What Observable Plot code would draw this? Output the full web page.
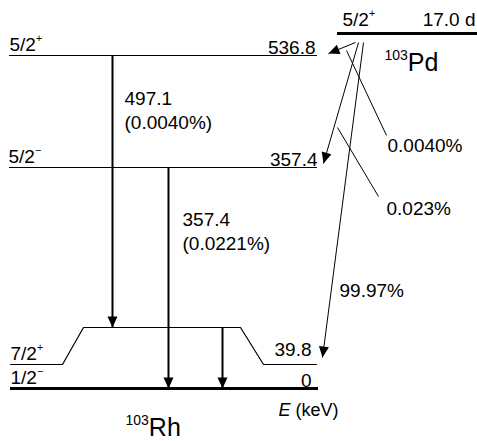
<!DOCTYPE html>
<html><head><meta charset="utf-8">
<script src="https://cdn.jsdelivr.net/npm/d3@7"></script>
<script src="https://cdn.jsdelivr.net/npm/@observablehq/plot@0.6"></script>
<style>html,body{margin:0;padding:0;background:#fff;} svg{display:block;}</style>
</head><body><div id="chart"></div>
<script>
// ---------- data ----------
const levelEnergies = [0, 39.8, 357.4, 536.8];
const levelSpins = ["1/2^{−}", "7/2^{+}", "5/2^{−}", "5/2^{+}"];
const levelLabels = ["0", "39.8", "357.4", "536.8"];
const gammaFrom = [536.8, 357.4, 39.8];
const gammaTo = [39.8, 0, 0];
const gammaEnergyLabels = ["497.1", "357.4", ""];
const gammaIntensityLabels = ["(0.0040%)", "(0.0221%)", ""];
const betaTo = [536.8, 357.4, 39.8];
const betaLabels = ["0.0040%", "0.023%", "99.97%"];
const parentSpin = "5/2^{+}";
const parentHalfLife = "17.0 d";
const parentName = "^{103}Pd";
const daughterName = "^{103}Rh";
const energyUnitLabel = "*E* (keV)";

// ---------- layout (pixels) ----------
const W = 477, H = 441;
const levelPx = [388, 364, 167, 55];
const lay = {
  levelX: [9, 317], groundX: [10, 318],
  bentX: [10, 62, 83, 240, 263, 316], raisedPx: 327,
  parentPx: 33, parentX: [337, 477],
  gammaX: [112, 168, 222],
  betaStart: [[355, 42], [358, 42], [363, 42]],
  betaTip: [[328, 53], [323, 163], [322, 357]],
  leaders: [[[346, 50], [386, 135]], [[337, 127], [378, 196]]],
  betaLabelPos: [[387, 145], [386, 208.5], [339, 290]],
  spinX: [10, 10, 8, 9], spinDy: -11,
  labelX: [311, 311, 317, 315], labelDy: [-8, -15, -8, -8],
  gammaLabelPos: [[124, 109], [182, 229.5]],
  parentSpinPos: [342, 19], halfLifePos: [475, 19], parentNamePos: [384, 62],
  daughterPos: [125, 427], unitPos: [338, 410]
};
// piecewise energy -> layout mapping, used as the y scale's transform
const P = d3.scaleLinear().domain(levelEnergies).range(levelPx);
const E = d3.scaleLinear().domain(levelPx).range(levelEnergies);
const raisedE = E(lay.raisedPx);
const parentE = E(lay.parentPx);

// arrowhead symbol: tip at origin, pointing down (+y)
const arrowSym = {draw(ctx) { ctx.moveTo(0, 0); ctx.lineTo(-5, -11); ctx.lineTo(5, -11); ctx.closePath(); }};
function head(fx, fy, tx, ty) {
  const len = Math.hypot(tx - fx, ty - fy), ux = (tx - fx) / len, uy = (ty - fy) / len;
  return {x: tx, y: E(ty), rot: Math.atan2(-ux, uy) * 180 / Math.PI};
}
const pxOf = e => e === 39.8 ? lay.raisedPx : P(e);
const gammas = gammaFrom.map((f, i) => ({
  x: lay.gammaX[i], py1: pxOf(f), py2: pxOf(gammaTo[i]), y1: E(pxOf(f)), y2: E(pxOf(gammaTo[i]))
}));
const betas = betaTo.map((e, i) => ({
  x1: lay.betaStart[i][0], y1: E(lay.betaStart[i][1]), x2: lay.betaTip[i][0], y2: E(lay.betaTip[i][1])
}));
const heads = [
  ...gammas.map(g => head(g.x, g.py1, g.x, g.py2)),
  ...betaTo.map((e, i) => head(lay.betaStart[i][0], lay.betaStart[i][1], lay.betaTip[i][0], lay.betaTip[i][1]))
];
const leaders = lay.leaders.map(([a, b]) => ({x1: a[0], y1: E(a[1]), x2: b[0], y2: E(b[1])}));
const bentPts = lay.bentX.map((x, i) => ({x, y: (i === 2 || i === 3) ? raisedE : levelEnergies[1]}));
const straightLevels = levelEnergies.filter(e => e !== 0 && e !== 39.8);
const gammaText = gammaEnergyLabels.map((l, i) => ({l, t: l + "\n" + gammaIntensityLabels[i], i})).filter(d => d.l);

const FONT = "'Liberation Sans', Arial, Helvetica, sans-serif";
const plot = Plot.plot({
  width: W, height: H, margin: 0,
  x: {domain: [0, W], range: [0, W], axis: null},
  y: {transform: P, domain: [0, H], range: [0, H], axis: null},
  style: {fontFamily: FONT, fontSize: "19px", background: "white", color: "black"},
  marks: [
    Plot.ruleY(straightLevels, {y: d => d, x1: lay.levelX[0], x2: lay.levelX[1], strokeWidth: 1.2}),
    Plot.ruleY([levelEnergies[0]], {y: d => d, x1: lay.groundX[0], x2: lay.groundX[1], strokeWidth: 3}),
    Plot.line(bentPts, {x: "x", y: "y", strokeWidth: 1.2}),
    Plot.ruleY([parentE], {y: d => d, x1: lay.parentX[0], x2: lay.parentX[1], strokeWidth: 3}),
    Plot.link(gammas, {x1: "x", x2: "x", y1: "y1", y2: "y2", strokeWidth: 2}),
    Plot.link(betas, {x1: "x1", y1: "y1", x2: "x2", y2: "y2", strokeWidth: 1}),
    Plot.link(leaders, {x1: "x1", y1: "y1", x2: "x2", y2: "y2", strokeWidth: 1}),
    Plot.dot(heads, {x: "x", y: "y", rotate: "rot", symbol: arrowSym, fill: "black", stroke: "none"}),
    Plot.text(levelSpins, {x: (d, i) => lay.spinX[i], y: (d, i) => E(P(levelEnergies[i]) + lay.spinDy), text: d => d, textAnchor: "start", fontSize: 19}),
    Plot.text(levelLabels, {x: (d, i) => lay.labelX[i], y: (d, i) => E(P(levelEnergies[i]) + lay.labelDy[i]), text: d => d, textAnchor: "end", fontSize: 19}),
    Plot.text(gammaText, {x: d => lay.gammaLabelPos[d.i][0], y: d => E(lay.gammaLabelPos[d.i][1]), text: "t", textAnchor: "start", lineHeight: 1.26, fontSize: 19}),
    Plot.text(betaLabels, {x: (d, i) => lay.betaLabelPos[i][0], y: (d, i) => E(lay.betaLabelPos[i][1]), text: d => d, textAnchor: "start", fontSize: 19}),
    Plot.text([parentSpin], {x: lay.parentSpinPos[0], y: E(lay.parentSpinPos[1]), text: d => d, textAnchor: "start", fontSize: 19}),
    Plot.text([parentHalfLife], {x: lay.halfLifePos[0], y: E(lay.halfLifePos[1]), text: d => d, textAnchor: "end", fontSize: 19}),
    Plot.text([parentName], {x: lay.parentNamePos[0], y: E(lay.parentNamePos[1]), text: d => d, textAnchor: "start", fontSize: 25}),
    Plot.text([daughterName], {x: lay.daughterPos[0], y: E(lay.daughterPos[1]), text: d => d, textAnchor: "start", fontSize: 25}),
    Plot.text([energyUnitLabel], {x: lay.unitPos[0], y: E(lay.unitPos[1]), text: d => d, textAnchor: "end", fontSize: 18})
  ]
});
document.getElementById("chart").appendChild(plot);

function richText(root) {
  const NS = "http://www.w3.org/2000/svg";
  root.querySelectorAll("text").forEach(t => {
    const s = t.textContent;
    if (!/[\^*]/.test(s) || t.querySelector("tspan")) return;
    const fs = parseFloat(getComputedStyle(t).fontSize);
    t.textContent = "";
    const re = /\^\{([^}]*)\}|\*([^*]*)\*|([^\^*]+)/g;
    let m, raised = false;
    while ((m = re.exec(s))) {
      const ts = document.createElementNS(NS, "tspan");
      if (m[1] !== undefined) {
        ts.textContent = m[1];
        ts.setAttribute("font-size", (fs * 0.56).toFixed(1));
        ts.setAttribute("dy", (-fs * 0.43).toFixed(1));
        raised = true;
      } else {
        ts.textContent = m[2] !== undefined ? m[2] : m[3];
        if (m[2] !== undefined) ts.setAttribute("font-style", "italic");
        if (raised) { ts.setAttribute("dy", (fs * 0.43).toFixed(1)); raised = false; }
      }
      t.appendChild(ts);
    }
  });
}
richText(plot);
</script>
</body></html>
